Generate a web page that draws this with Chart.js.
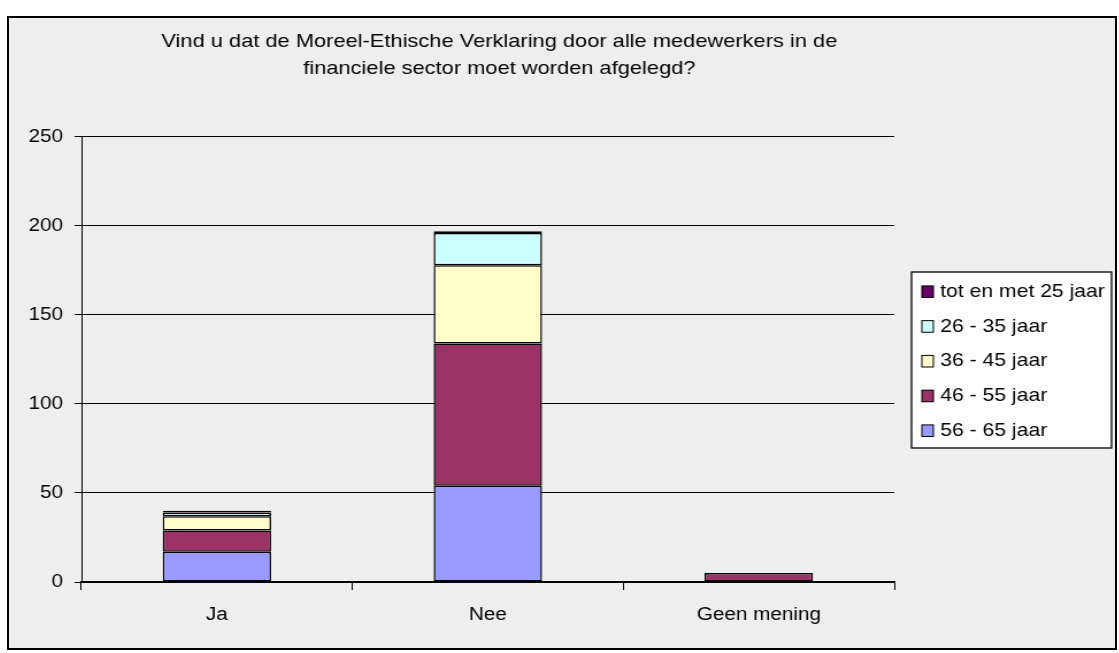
<!DOCTYPE html>
<html>
<head>
<meta charset="utf-8">
<script src="https://cdn.jsdelivr.net/npm/chart.js@4.4.0/dist/chart.umd.min.js"></script>
<style>
  body { margin: 0; background: #fff; }
  #frame {
    position: absolute; left: 7px; top: 16px; width: 1110px; height: 634px;
    box-sizing: border-box; border: 2px solid #000; background: #eeeeee; overflow: hidden;
  }
  /* the original picture is a bit wider than tall, so stretch the canvas sideways */
  #stretch { width: 962px; height: 630px; transform: scaleX(1.1497); transform-origin: 0 0; }
</style>
</head>
<body>
<div id="frame"><div id="stretch"><canvas id="chart"></canvas></div></div>
<script>
const categories = ["Ja", "Nee", "Geen mening"];
const ageGroups = ["56 - 65 jaar", "46 - 55 jaar", "36 - 45 jaar", "26 - 35 jaar", "tot en met 25 jaar"];
const age56to65 = [17, 54, 0];
const age46to55 = [12, 80, 5];
const age36to45 = [8, 44, 0];
const age26to35 = [2, 18, 0];
const ageTo25 = [1, 1, 0];
const yTicks = [0, 50, 100, 150, 200, 250];
const colors = ["#9999ff", "#993366", "#ffffcc", "#ccffff", "#660066"];

const FONT = "'Liberation Sans', Arial, sans-serif";
Chart.defaults.font.family = FONT;
Chart.defaults.font.size = 18;
Chart.defaults.color = "#000";

const seriesValues = [age56to65, age46to55, age36to45, age26to35, ageTo25];

// legend drawn by hand so it sits in a boxed panel like the original
const boxLegend = {
  id: "boxLegend",
  afterLayout(chart) {
    // title in the original sits a little right of the plot centre
    if (chart.titleBlock) {
      chart.titleBlock.left += 10;
      chart.titleBlock.right += 10;
    }
  },
  afterDraw(chart) {
    const ctx = chart.ctx;
    const left = 785, top = 254, right = 959, bottom = 430;
    ctx.save();
    ctx.fillStyle = "#fff";
    ctx.fillRect(left, top, right - left, bottom - top);
    ctx.lineWidth = 1.3;
    ctx.strokeStyle = "#000";
    ctx.strokeRect(left, top, right - left, bottom - top);
    ctx.font = "18.4px " + FONT;
    ctx.textBaseline = "middle";
    const items = chart.data.datasets.slice().reverse();
    items.forEach((ds, i) => {
      const y = top + 19.7 + i * 34.75;
      ctx.fillStyle = ds.backgroundColor;
      ctx.fillRect(794, y - 5.8, 10, 11.6);
      ctx.lineWidth = 1;
      ctx.strokeRect(794, y - 5.8, 10, 11.6);
      ctx.fillStyle = "#000";
      ctx.fillText(ds.label, 810, y);
    });
    ctx.restore();
  }
};

new Chart(document.getElementById("chart"), {
  type: "bar",
  data: {
    labels: categories,
    datasets: ageGroups.map((label, i) => ({
      label: label,
      data: seriesValues[i],
      backgroundColor: colors[i],
      borderColor: "#000",
      borderWidth: 1.5,
      borderSkipped: false,
      barPercentage: 0.4,
      categoryPercentage: 1,
    })),
  },
  options: {
    animation: false,
    responsive: true,
    maintainAspectRatio: false,
    layout: { padding: { left: 0, right: 192, top: 0, bottom: 0 } },
    plugins: {
      legend: { display: false },
      tooltip: { enabled: false },
      title: {
        display: true,
        fullSize: false,
        text: ["Vind u dat de Moreel-Ethische Verklaring door alle medewerkers in de",
               "financiele sector moet worden afgelegd?"],
        font: { size: 19, weight: "normal", lineHeight: 1.42 },
        padding: { top: 10, bottom: 55 },
      },
    },
    scales: {
      x: {
        stacked: true,
        grid: { drawOnChartArea: false, drawTicks: true, tickLength: 8, color: "#000" },
        border: { color: "#000", width: 1.5 },
        ticks: { padding: 14 },
        afterFit: (s) => { s.height = 66; },
      },
      y: {
        stacked: true,
        min: yTicks[0],
        max: yTicks[yTicks.length - 1],
        afterBuildTicks: (s) => { s.ticks = yTicks.map((v) => ({ value: v })); },
        grid: { color: "#000", lineWidth: 1, tickLength: 6 },
        border: { color: "#000", width: 1 },
        ticks: { padding: 10 },
        afterFit: (s) => { s.width = 63; },
      },
    },
  },
  plugins: [boxLegend],
});
</script>
</body>
</html>
